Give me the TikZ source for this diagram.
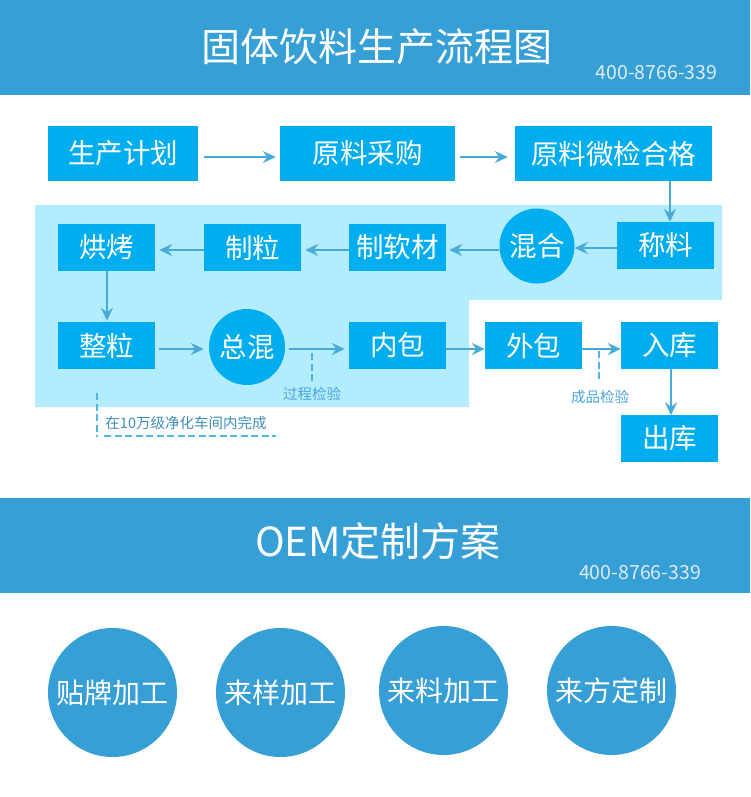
\documentclass[tikz,border=0pt]{standalone}
\usepackage{fontspec}
\newfontfamily\cjk{Noto Sans CJK SC}
\usetikzlibrary{arrows.meta,calc}
\definecolor{band}{HTML}{369FD6}
\definecolor{boxc}{HTML}{00AEEF}
\definecolor{zone}{HTML}{B3ECFC}
\definecolor{arr}{HTML}{48AAD8}
\definecolor{dsh}{HTML}{4DB6E4}
\definecolor{lbl}{HTML}{4BA6DA}
\definecolor{phonec}{HTML}{DCEBF6}
\begin{document}
\begin{tikzpicture}[x=1pt,y=-1pt,
  stepbox/.style={fill=boxc, text=white, inner sep=0pt, minimum height=47pt, minimum width=97pt, font=\cjk\fontsize{27.5}{27.5}\selectfont},
  stepcirc/.style={circle, fill=boxc, text=white, inner sep=0pt, minimum size=76pt, font=\cjk\fontsize{27.5}{27.5}\selectfont},
  oemcirc/.style={circle, fill=band, text=white, inner sep=0pt, minimum size=129pt, font=\cjk\fontsize{28}{28}\selectfont},
  flow/.style={draw=arr, line width=2.3pt, -{Stealth[length=13pt,width=12pt,inset=4.5pt]}},
  dashline/.style={draw=dsh, line width=2pt, dash pattern=on 7pt off 3.5pt},
  smalllbl/.style={text=lbl, inner sep=0pt, font=\cjk\fontsize{14.5}{14.5}\selectfont},
  phone/.style={text=phonec, inner sep=0pt, font=\cjk\fontsize{19.5}{19.5}\selectfont},
  heading/.style={text=white, inner sep=0pt}
]
\useasboundingbox (0,0) rectangle (750,797);
\fill[white] (0,0) rectangle (750,797);
% bands
\fill[band] (0,0) rectangle (750,95);
\fill[band] (0,498) rectangle (750,593);
\node[heading, font=\cjk\fontsize{39}{39}\selectfont] (title) at (376.5,47) {固体饮料生产流程图};
\node[phone] (tel1) at (656.5,73) {400-8766-339};
\node[heading, font=\cjk\fontsize{40}{40}\selectfont] (oem) at (378,541) {OEM定制方案};
\node[phone] (tel2) at (640,573) {400-8766-339};
% clean zone
\fill[zone] (35,205) -- (722,205) -- (722,300) -- (469,300) -- (469,407) -- (35,407) -- cycle;
% top row
\node[stepbox, minimum width=150pt, minimum height=55pt] (plan) at (123,153.5) {生产计划};
\node[stepbox, minimum width=175pt, minimum height=55pt] (buy) at (367.5,153.5) {原料采购};
\node[stepbox, minimum width=197pt, minimum height=55pt] (check) at (613.5,153.5) {原料微检合格};
% second row
\node[stepbox] (weigh) at (665.5,245.5) {称料};
\node[stepcirc, minimum size=75pt] (mix) at (537,246) {混合};
\node[stepbox] (soft) at (397.5,247.5) {制软材};
\node[stepbox] (gran) at (252.5,247.5) {制粒};
\node[stepbox] (bake) at (106.5,247.5) {烘烤};
% third row
\node[stepbox] (size) at (106.5,345.5) {整粒};
\node[stepcirc] (mixall) at (247,347) {总混};
\node[stepbox] (inner) at (397.5,345.5) {内包};
\node[stepbox] (outer) at (533.5,345.5) {外包};
\node[stepbox] (store) at (669.5,345.5) {入库};
\node[stepbox] (out) at (669.5,438.5) {出库};
% arrows
\draw[flow] ([xshift=6pt,yshift=-3.5pt]plan.east) -- ([xshift=-4pt,yshift=-3.5pt]buy.west);
\draw[flow] ([xshift=5pt,yshift=-3.5pt]buy.east) -- ([xshift=-7pt,yshift=-3.5pt]check.west);
\draw[flow] ([xshift=4.5pt]check.south -| weigh.north) -- ([xshift=4.5pt]weigh.north);
\draw[flow] ([yshift=-2.5pt]weigh.west) -- ([yshift=-2pt]mix.east);
\draw[flow] ([yshift=-4pt]mix.west) -- ([xshift=3pt,yshift=-2.5pt]soft.east);
\draw[flow] ([yshift=-2.5pt]soft.west) -- ([xshift=4pt,yshift=-2.5pt]gran.east);
\draw[flow] ([yshift=-2.5pt]gran.west) -- ([xshift=4pt,yshift=-2.5pt]bake.east);
\draw[flow] ([xshift=0.5pt]bake.south) -- ([xshift=0.5pt,yshift=1pt]size.north);
\draw[flow] ([xshift=4pt,yshift=-3.5pt]size.east) -- ([xshift=-5pt,yshift=-2pt]mixall.west);
\draw[flow] ([xshift=4pt,yshift=-2pt]mixall.east) -- ([xshift=-4pt,yshift=-3.5pt]inner.west);
\draw[flow] ([yshift=-3.5pt]inner.east) -- ([yshift=-3.5pt]outer.west);
\draw[flow] ([yshift=-3.5pt]outer.east) -- ([yshift=-3.5pt]store.west);
\draw[flow] ([xshift=1.5pt]store.south) -- ([xshift=1.5pt,yshift=-0.5pt]out.north);
% inspection marks
\coordinate (pq1) at (312,353);
\coordinate (pq2) at (312,383);
\draw[dashline] (pq1) -- (pq2);
\node[smalllbl] (pql) at (312,394) {过程检验};
\coordinate (fq1) at (599,351);
\coordinate (fq2) at (599,382);
\draw[dashline] (fq1) -- (fq2);
\node[smalllbl] (fql) at (600,397) {成品检验};
% clean room note
\coordinate (cr1) at (97,393);
\coordinate (cr2) at (97,437);
\coordinate (cr3) at (104,436);
\coordinate (cr4) at (276,436);
\draw[dashline] (cr1) -- (cr2);
\draw[dashline] (cr3) -- (cr4);
\node[smalllbl, text=lbl!85!black] (crl) at (186,423) {在10万级净化车间内完成};
% OEM circles
\node[oemcirc] (o1) at (112.5,692.5) {贴牌加工};
\node[oemcirc] (o2) at (280.5,692.5) {来样加工};
\node[oemcirc] (o3) at (443.5,690.5) {来料加工};
\node[oemcirc] (o4) at (611.5,690.5) {来方定制};
\end{tikzpicture}
\end{document}
